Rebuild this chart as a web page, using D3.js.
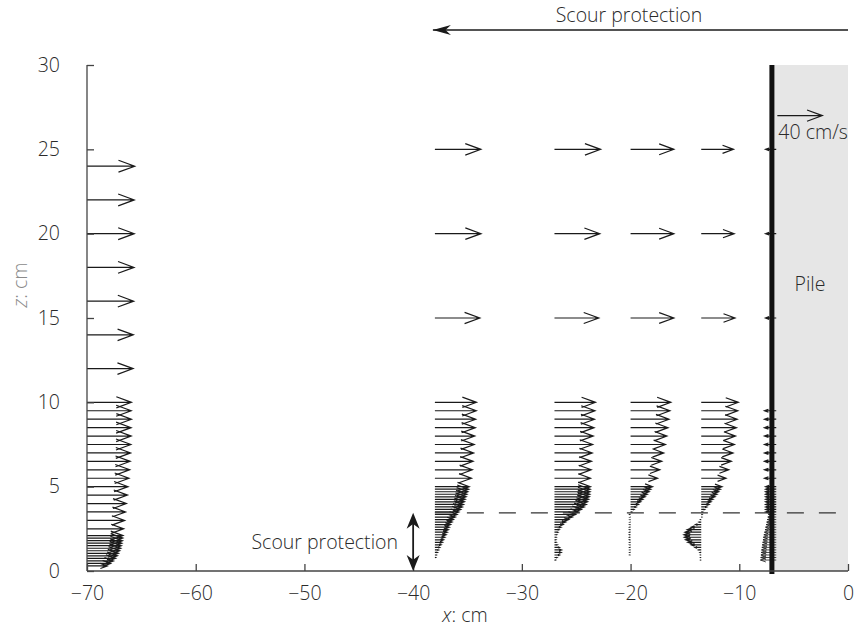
<!DOCTYPE html>
<html><head><meta charset="utf-8">
<script src="https://cdn.jsdelivr.net/npm/d3@7"></script>
<style>
html,body{margin:0;padding:0;background:#fff;}
svg{display:block;font-family:"Open Sans","Noto Sans",sans-serif;font-weight:300;}
</style></head>
<body><svg id="chart" width="856" height="629"></svg>
<script>
// ---------- data ----------
const xTicks = [-70, -60, -50, -40, -30, -20, -10, 0];
const yTicks = [0, 5, 10, 15, 20, 25, 30];
const pileX = -7;
const scourZ = 3.45;          // top of scour protection (dashed line)
const scourX0 = -38;          // start of scour protection
const refSpeed = 40;          // cm/s reference arrow
const refZ = 27;

// profile origins (x, cm)
const profileX = [-70, -38, -27, -20, -13.5, -6.6];

// profile 1, x = -70
const p1Z = [24, 22, 20, 18, 16, 14, 12,
  10, 9.5, 9, 8.5, 8, 7.5, 7, 6.5, 6, 5.5, 5, 4.5, 4, 3.5, 3, 2.5,
  2.1, 1.95, 1.8, 1.65, 1.5, 1.35, 1.2, 1.05, 0.9, 0.75, 0.6, 0.45, 0.3];
const p1U = [42.4, 42, 42, 41.8, 41.5, 41.2, 41,
  39.5, 39.3, 39.5, 39.2, 39.3, 39, 38.8, 38.4, 38, 37.3, 36.5, 36, 35, 34.3, 33.5, 32.6,
  32, 31.8, 31.5, 31, 30.5, 30, 29, 28, 27, 25.5, 23.5, 21, 18];

// profile 2, x = -38
const p2Z = [25, 20, 15,
  10, 9.5, 9, 8.5, 8, 7.5, 7, 6.5, 6, 5.5,
  5.0, 4.85, 4.7, 4.55, 4.4, 4.25, 4.1, 3.95, 3.8, 3.65, 3.5, 3.35, 3.2, 3.05, 2.9,
  2.75, 2.6, 2.45, 2.3, 2.15, 2.0, 1.85, 1.7, 1.55, 1.4, 1.25, 1.1, 0.95, 0.8];
const p2U = [40.9, 41, 40,
  37, 36.8, 36.3, 36, 35.5, 35, 34.5, 34, 33.3, 32.5,
  30.5, 30, 29.3, 28.5, 27.8, 27, 26.3, 25.5, 24.5, 23, 21.3, 19.8, 18.2, 16.5, 15.3,
  14, 12.8, 12, 11, 10, 8.9, 7.8, 6.8, 5.5, 4.3, 3.2, 2.2, 1.2, 0.5];

// profile 3, x = -27
const p3Z = [25, 20, 15,
  10, 9.5, 9, 8.5, 8, 7.5, 7, 6.5, 6, 5.5,
  5.0, 4.85, 4.7, 4.55, 4.4, 4.25, 4.1, 3.95, 3.8, 3.65, 3.5, 3.35, 3.2, 3.05, 2.9,
  2.75, 2.6, 2.45, 2.3, 2.15, 2.0, 1.85, 1.7, 1.55, 1.4, 1.25, 1.1, 0.95, 0.8, 0.65];
const p3U = [41, 40.3, 39.4,
  36.5, 36, 35.6, 35.2, 34.5, 34, 33.6, 33, 32.6, 32,
  32, 31.8, 31.6, 31.4, 31, 30.4, 29.5, 28.3, 26.5, 24, 21.6, 18.8, 16, 12.8, 10,
  7.8, 5.8, 4.2, 3, 2, 1.4, 1.2, 1.5, 2.5, 4.5, 6.3, 6, 4.5, 2.2, 0.8];

// profile 4, x = -20
const p4Z = [25, 20, 15,
  10, 9.5, 9, 8.5, 8, 7.5, 7, 6.5, 6, 5.5,
  5.0, 4.85, 4.7, 4.55, 4.4, 4.25, 4.1, 3.95, 3.8, 3.65, 3.5,
  3.35, 3.2, 3.05, 2.9, 2.75, 2.6, 2.45, 2.3, 2.15, 2.0, 1.85, 1.7, 1.55, 1.4, 1.25, 1.1, 0.95];
const p4U = [38.5, 38.5, 38.5,
  35.8, 35, 34.2, 33.3, 32.3, 31, 29.5, 27.8, 26, 24,
  19.5, 18, 16.5, 14.8, 13, 11, 9, 7, 5, 3, 1,
  -0.6, -0.6, -0.7, -0.7, -0.7, -0.8, -0.8, -0.8, -0.8, -0.8, -0.8, -0.7, -0.7, -0.7, -0.6, -0.6, -0.6];

// profile 5, x = -13.5
const p5Z = [25, 20, 15,
  10, 9.5, 9, 8.5, 8, 7.5, 7, 6.5, 6, 5.5,
  5.0, 4.85, 4.7, 4.55, 4.4, 4.25, 4.1, 3.95, 3.8, 3.65, 3.5,
  3.35, 3.2, 3.05, 2.9, 2.75, 2.6, 2.45, 2.3, 2.15, 2.0, 1.85, 1.7, 1.55, 1.4, 1.25, 1.1, 0.95, 0.8, 0.65];
const p5U = [28.7, 29.3, 30,
  33, 32.5, 32, 31.3, 30.5, 29.5, 28.3, 26.8, 24.5, 22,
  18.5, 17, 15.5, 14, 12.3, 10.5, 8.7, 7, 5, 3, 1.2,
  0.5, 0.3, -0.5, -2, -5, -9, -12.5, -14.5, -15.4, -15, -14, -12, -9, -5.5, -2.5, -1, -0.5, -0.4, -0.3];

// profile 6, at the pile face
const p6Z = [25, 20, 15,
  9.5, 9, 8.5, 8, 7.5, 7, 6.5, 6, 5.5,
  5.0, 4.85, 4.7, 4.55, 4.4, 4.25, 4.1, 3.95, 3.8, 3.65, 3.5,
  3.35, 3.2, 3.05, 2.9, 2.75, 2.6, 2.45, 2.3, 2.15, 2.0, 1.85, 1.7, 1.55, 1.4, 1.25, 1.1, 0.95, 0.8, 0.65];
const p6U = [-9.5, -9.5, -9.5,
  -10.5, -10.5, -10.5, -10.5, -10.5, -10.5, -10.5, -10.5, -10.5,
  -9.5, -9.5, -9.5, -9.5, -9.5, -9.5, -9.5, -9.5, -9.5, -9.5, -9.5,
  -7, -7.5, -8, -8.5, -9, -9.5, -10, -10.5, -11, -11.5, -11.8, -12.1, -12.5, -12.8, -13.1, -13.4, -13.6, -13.8, -14];

const profiles = [
  {x: profileX[0], z: p1Z, u: p1U},
  {x: profileX[1], z: p2Z, u: p2U},
  {x: profileX[2], z: p3Z, u: p3U},
  {x: profileX[3], z: p4Z, u: p4U},
  {x: profileX[4], z: p5Z, u: p5U},
  {x: profileX[5], z: p6Z, u: p6U}
];

// ---------- scales ----------
const svg = d3.select("#chart");
const x = d3.scaleLinear().domain([-70, 0]).range([87, 848]);
const y = d3.scaleLinear().domain([0, 30]).range([571, 65]);
const uLen = d3.scaleLinear().domain([0, refSpeed]).range([0, 45]); // px per velocity

const ink = "#1a1a1a";
const axisCol = "#444";
const txt = "#2a2a2a";
const fs = "19.5px";

// pile
svg.append("rect")
  .attr("x", x(pileX)).attr("y", y(30))
  .attr("width", x(0) - x(pileX)).attr("height", y(0) - y(30))
  .attr("fill", "#e6e6e6");

// arrows
function arrowPath(px, py, L) {
  const a = 0.34, b = 0.125;
  const x1 = px + L;
  return `M${px},${py}L${x1},${py}` +
    `M${x1 - a * L},${py - b * Math.abs(L)}L${x1},${py}L${x1 - a * L},${py + b * Math.abs(L)}`;
}
const arrows = [];
profiles.forEach((p, k) => p.z.forEach((z, i) => arrows.push({x: p.x, z: z, u: p.u[i], k: k})));
svg.append("g").selectAll("path").data(arrows).join("path")
  .attr("d", d => arrowPath(x(d.x), y(d.z), uLen(d.u)))
  .attr("fill", "none").attr("stroke", ink)
  .attr("stroke-width", d => (d.k === 5 && d.z < scourZ) ? 0.8 : 1.2);

// dashed scour line
svg.append("line")
  .attr("x1", x(scourX0)).attr("x2", x(0))
  .attr("y1", y(scourZ)).attr("y2", y(scourZ))
  .attr("stroke", "#333").attr("stroke-width", 1.2)
  .attr("stroke-dasharray", "17,15");

// pile face (thick line)
svg.append("line")
  .attr("x1", x(pileX)).attr("x2", x(pileX))
  .attr("y1", y(30)).attr("y2", y(0) + 3)
  .attr("stroke", "#111").attr("stroke-width", 5);

// axes
const xAxis = d3.axisBottom(x).tickValues(xTicks).tickSize(-7).tickPadding(15)
  .tickFormat(d => d3.format("")(d).replace("-", "\u2212"));
const gx = svg.append("g").attr("transform", `translate(0,${y(0)})`).call(xAxis);
const yAxis = d3.axisLeft(y).tickValues(yTicks).tickSize(-7).tickPadding(27);
const gy = svg.append("g").attr("transform", `translate(${x(-70)},0)`).call(yAxis);
[gx, gy].forEach(g => {
  g.select(".domain").attr("stroke", axisCol).attr("stroke-width", 1.3);
  g.selectAll(".tick line").attr("stroke", axisCol).attr("stroke-width", 1.3);
  g.selectAll(".tick text").attr("fill", txt).style("font-size", fs)
    .style("font-family", "'Open Sans','Noto Sans',sans-serif").style("font-weight", 300);
});
gx.select(".domain").attr("d", `M${x(-70)},0H${x(0)}`);
gy.select(".domain").attr("d", `M0,${y(30)}V${y(0)}`);

// axis titles
const xt = svg.append("text").attr("x", 465).attr("y", 622)
  .attr("text-anchor", "middle").attr("fill", txt).style("font-size", fs);
xt.append("tspan").style("font-style", "italic").text("x");
xt.append("tspan").text(": cm");
const zt = svg.append("text").attr("transform", "translate(27,285) rotate(-90)")
  .attr("text-anchor", "middle").attr("fill", "#8a8a8a").style("font-size", fs);
zt.append("tspan").style("font-style", "italic").text("z");
zt.append("tspan").text(": cm");

// reference arrow
svg.append("path")
  .attr("d", arrowPath(x(-6.5), y(refZ), uLen(refSpeed)))
  .attr("fill", "none").attr("stroke", ink).attr("stroke-width", 1.2);
svg.append("text").attr("x", x(-6.5) + 1).attr("y", y(refZ) + 23)
  .attr("fill", txt).style("font-size", fs).text("40 cm/s");

// Pile label
svg.append("text").attr("x", x(-3.5)).attr("y", y(17) + 7)
  .attr("text-anchor", "middle").attr("fill", txt).style("font-size", fs).text("Pile");

// barbed filled arrowhead
function barb(tx, ty, dir, len, hw) {
  const [dx, dy] = dir, nx = -dy, ny = dx;
  const bx = tx - dx * len, by = ty - dy * len;
  const nxp = tx - dx * len * 0.7, nyp = ty - dy * len * 0.7;
  return `M${tx},${ty}L${bx + nx * hw},${by + ny * hw}L${nxp},${nyp}L${bx - nx * hw},${by - ny * hw}Z`;
}

// top "Scour protection" arrow
svg.append("line").attr("x1", x(0)).attr("x2", x(scourX0) - 2)
  .attr("y1", 30).attr("y2", 30).attr("stroke", ink).attr("stroke-width", 1.3);
svg.append("path").attr("d", barb(x(scourX0) - 2, 30, [-1, 0], 18, 5)).attr("fill", ink);
svg.append("text").attr("x", 629).attr("y", 22).attr("text-anchor", "middle")
  .attr("fill", txt).style("font-size", fs).text("Scour protection");

// vertical double arrow for scour protection thickness
const vx = x(-40);
svg.append("line").attr("x1", vx).attr("x2", vx)
  .attr("y1", y(scourZ) + 4).attr("y2", y(0) - 4)
  .attr("stroke", ink).attr("stroke-width", 1.8);
svg.append("path").attr("d", barb(vx, y(scourZ), [0, -1], 16, 6.5)).attr("fill", ink);
svg.append("path").attr("d", barb(vx, y(0), [0, 1], 16, 6.5)).attr("fill", ink);
svg.append("text").attr("x", 398).attr("y", y(1.7) + 7).attr("text-anchor", "end")
  .attr("fill", txt).style("font-size", fs).text("Scour protection");
</script></body></html>
